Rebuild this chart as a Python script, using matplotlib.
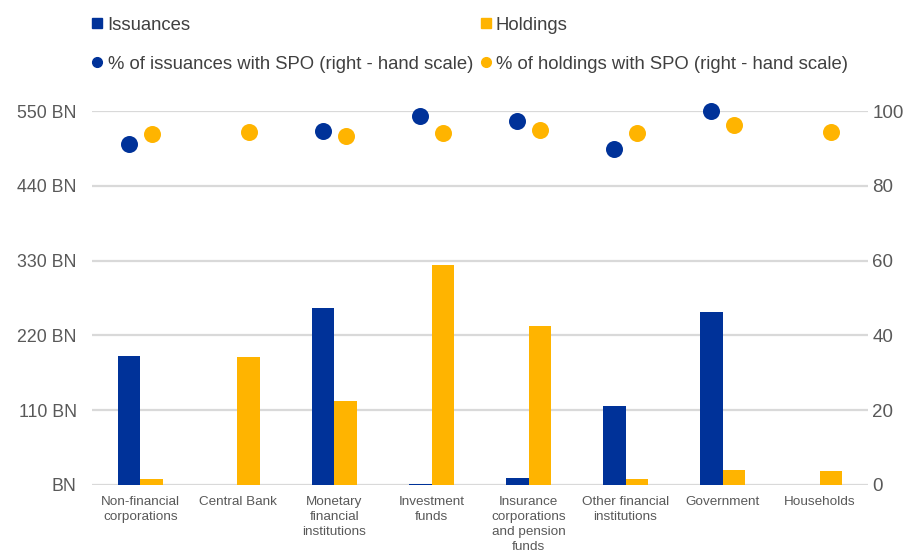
import numpy as np
import matplotlib.pyplot as plt
from matplotlib.lines import Line2D

plt.rcParams['font.family'] = ['Liberation Sans', 'DejaVu Sans']

# data
categories = ['Non-financial\ncorporations', 'Central Bank', 'Monetary\nfinancial\ninstitutions',
              'Investment\nfunds', 'Insurance\ncorporations\nand pension\nfunds',
              'Other financial\ninstitutions', 'Government', 'Households']
issuances = [190, 0, 260, 1.5, 10, 116, 254, 0]
holdings = [9, 188, 123, 323, 234, 9, 22, 21]
pct_issuances = [91.2, np.nan, 94.6, 98.6, 97.4, 89.9, 99.9, np.nan]
pct_holdings = [93.9, 94.5, 93.4, 94.0, 95.0, 94.1, 96.3, 94.4]
left_ticks = [0, 110, 220, 330, 440, 550]
left_labels = ['BN', '110 BN', '220 BN', '330 BN', '440 BN', '550 BN']
right_ticks = [0, 20, 40, 60, 80, 100]

blue = '#003299'
orange = '#ffb400'
grey = '#595959'

fig = plt.figure(figsize=(9.17, 5.51), dpi=100)
ax = fig.add_axes([0.1003, 0.1198, 0.8463, 0.6787])
ax2 = ax.twinx()

x = np.arange(len(categories))
w = 0.235
ax.bar(x - w / 2, issuances, w, color=blue, zorder=3)
ax.bar(x + w / 2, holdings, w, color=orange, zorder=3)

ax2.scatter(x - w / 2, pct_issuances, s=150, color=blue, zorder=4, clip_on=False, linewidths=0)
ax2.scatter(x + w / 2, pct_holdings, s=150, color=orange, zorder=4, clip_on=False, linewidths=0)

ax.set_xlim(-0.5, len(categories) - 0.5)
ax.set_ylim(0, 550)
ax2.set_ylim(0, 100)
ax.set_yticks(left_ticks)
ax.set_yticklabels(left_labels)
ax2.set_yticks(right_ticks)
ax.grid(axis='y', color='#d9d9d9', linewidth=1.6, zorder=0)
ax.set_axisbelow(True)

ax.set_xticks(x)
ax.set_xticklabels(categories, fontsize=9.7, color=grey, linespacing=1.32)
for a in (ax, ax2):
    for s in a.spines.values():
        s.set_visible(False)
    a.tick_params(length=0, labelsize=12.8, labelcolor=grey)
ax.tick_params(axis='x', labelsize=9.7, pad=8)
ax.tick_params(axis='y', pad=11)
ax2.tick_params(axis='y', labelsize=13.5, pad=3)

handles = [
    Line2D([], [], marker='s', linestyle='none', color=blue, markersize=7),
    Line2D([], [], marker='o', linestyle='none', color=blue, markersize=7),
    Line2D([], [], marker='s', linestyle='none', color=orange, markersize=7),
    Line2D([], [], marker='o', linestyle='none', color=orange, markersize=7),
]
labels = ['Issuances', '% of issuances with SPO (right - hand scale)',
          'Holdings', '% of holdings with SPO (right - hand scale)']
fig.legend(handles, labels, ncol=2, loc='upper left', bbox_to_anchor=(0.082, 1.0),
           frameon=False, fontsize=13.3, handlelength=0.6, handletextpad=0.25,
           columnspacing=0.4, labelspacing=1.2, labelcolor='#404040')

fig.savefig('out.png', dpi=100)
